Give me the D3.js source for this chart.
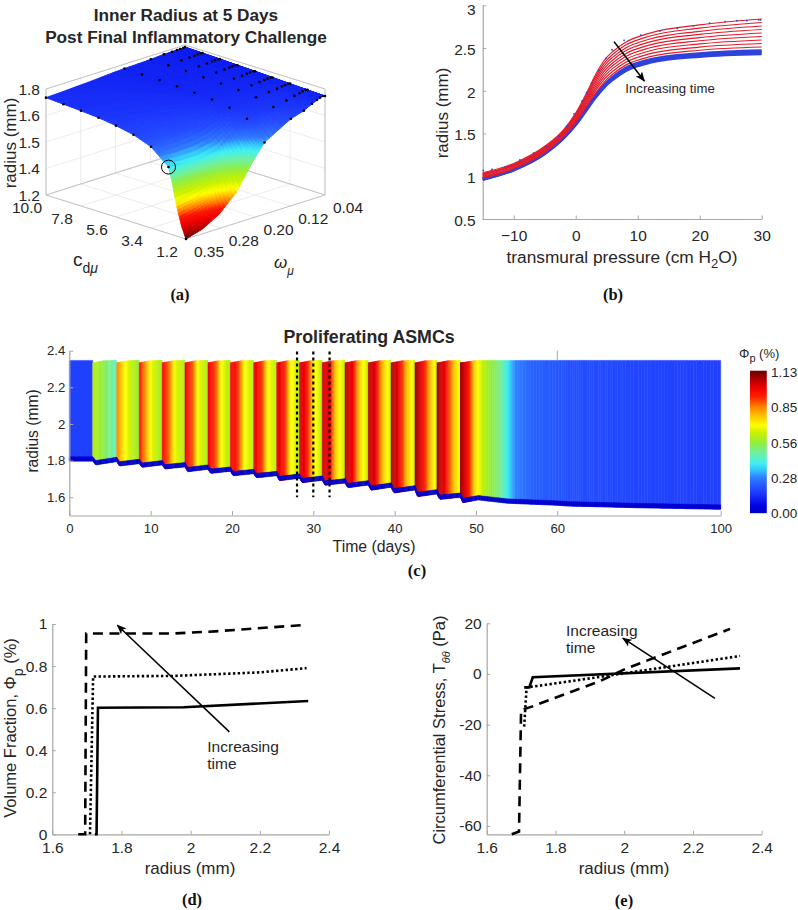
<!DOCTYPE html>
<html><head><meta charset="utf-8">
<script src="https://cdn.jsdelivr.net/npm/d3@7"></script>
<style>html,body{margin:0;padding:0;background:#fff}svg{display:block}text{font-family:"Liberation Sans",Helvetica,Arial,sans-serif;fill:#262626}.pl{font-family:"Liberation Serif",serif;font-weight:bold;fill:#111}</style>
</head><body><svg id="c" width="798" height="910"></svg>
<script>
// ---------- shared colour map ----------
const cmapValues=[0,0.05,0.17,0.28,0.33,0.395,0.48,0.556,0.64,0.70,0.78,0.85,0.93,1.0,1.07,1.13];
const cmapColors=["#0000c0","#0000e6","#2040ff","#2f7dff","#30b8ff","#40f0f0","#70f0a0","#90ee40","#c8f000","#ffff00","#ffc000","#ff8000","#ff2000","#f00000","#b00000","#700000"];
// ---------- panel a ----------
const surfCd=[1.2,1.47,1.78,2.10,2.3,3.4,4.5,5.6,6.7,7.8,8.9,10];
const surfOmega=[0.35,0.313,0.276,0.238,0.201,0.175,0.116,0.087,0.069,0.058,0.051,0.044,0.04];
const surfRadius=[
[1.200,1.227,1.281,1.373,1.518,1.606,1.693,1.715,1.740,1.752,1.760,1.764,1.760],
[1.262,1.290,1.335,1.420,1.550,1.630,1.702,1.722,1.744,1.754,1.761,1.765,1.761],
[1.366,1.380,1.410,1.480,1.585,1.655,1.712,1.730,1.748,1.756,1.762,1.766,1.762],
[1.508,1.500,1.505,1.545,1.625,1.685,1.722,1.738,1.751,1.758,1.763,1.767,1.763],
[1.576,1.560,1.560,1.585,1.655,1.709,1.728,1.742,1.753,1.759,1.764,1.767,1.764],
[1.660,1.665,1.672,1.685,1.715,1.740,1.752,1.758,1.762,1.766,1.769,1.771,1.768],
[1.697,1.700,1.710,1.720,1.740,1.756,1.762,1.766,1.769,1.772,1.774,1.775,1.772],
[1.717,1.720,1.730,1.740,1.752,1.763,1.768,1.771,1.774,1.776,1.778,1.779,1.776],
[1.731,1.735,1.742,1.750,1.760,1.768,1.772,1.775,1.778,1.780,1.781,1.782,1.779],
[1.739,1.745,1.750,1.757,1.766,1.772,1.776,1.779,1.781,1.783,1.784,1.785,1.783],
[1.745,1.750,1.755,1.762,1.769,1.773,1.778,1.782,1.784,1.785,1.786,1.787,1.786],
[1.751,1.755,1.760,1.765,1.772,1.775,1.780,1.785,1.785,1.786,1.786,1.786,1.789]];
const dotRows=[0,4,5,6,7,8,9,10,11];
const dotCols=[0,5,6,7,8,9,10,11,12];
const radiusToPhiR=[1.2,1.25,1.30,1.35,1.39,1.47,1.55,1.59,1.63,1.68,1.79];
const radiusToPhiV=[1.13,1.03,0.96,0.82,0.70,0.58,0.43,0.35,0.26,0.19,0.10];
const cdTicks=[10,7.8,5.6,3.4,1.2], cdLabels=["10.0","7.8","5.6","3.4","1.2"];
const omegaTicks=[0.35,0.2725,0.195,0.1175,0.04], omegaLabels=["0.35","0.28","0.20","0.12","0.04"];
const zTicks=[1.8,1.65,1.5,1.35,1.2], zLabels=["1.8","1.6","1.5","1.4","1.2"];
// ---------- panel b ----------
const pGrid=[-15,-10,-5,-2,0,2,3,4,5,6,8,12,20,30];
const redCurves=[
[1.04,1.15,1.35,1.54,1.74,2.01,2.16,2.29,2.39,2.46,2.565,2.675,2.77,2.84],
[1.03,1.14,1.34,1.53,1.726,1.989,2.134,2.26,2.358,2.427,2.532,2.641,2.733,2.799],
[1.02,1.13,1.33,1.52,1.712,1.968,2.108,2.23,2.326,2.394,2.498,2.606,2.696,2.758],
[1.02,1.13,1.32,1.51,1.70,1.947,2.082,2.20,2.294,2.361,2.465,2.572,2.659,2.717],
[1.01,1.12,1.31,1.50,1.684,1.926,2.056,2.17,2.262,2.328,2.431,2.537,2.622,2.676],
[1.00,1.11,1.305,1.49,1.67,1.905,2.03,2.14,2.23,2.295,2.398,2.503,2.585,2.635],
[0.99,1.10,1.296,1.48,1.656,1.884,2.004,2.11,2.198,2.262,2.364,2.468,2.548,2.594],
[0.98,1.09,1.287,1.47,1.642,1.863,1.978,2.08,2.166,2.229,2.33,2.434,2.511,2.553],
[0.98,1.09,1.278,1.46,1.628,1.842,1.952,2.05,2.134,2.196,2.297,2.399,2.474,2.512]];
const blueCurves=[
[0.97,1.08,1.27,1.45,1.614,1.821,1.926,2.02,2.102,2.163,2.264,2.365,2.437,2.471],
[0.965,1.075,1.265,1.445,1.607,1.81,1.913,2.005,2.086,2.147,2.247,2.348,2.419,2.45],
[0.96,1.07,1.26,1.44,1.60,1.80,1.90,1.99,2.07,2.13,2.23,2.33,2.40,2.43]];
const expP=[-14.9,-13.5,-11.4,-9.0,-6.8,-4.8,-2.7,-1.45,-0.27,1.02,1.77,2.58,3.76,4.84,5.86,7.8,10.5,13.6,16.4,19,21.6,24.1,26,27.6,29.5,29.8];
const expR=[1.07,1.08,1.11,1.19,1.27,1.35,1.47,1.58,1.73,1.88,1.98,2.09,2.24,2.38,2.48,2.59,2.65,2.70,2.73,2.76,2.79,2.81,2.82,2.82,2.83,2.83];
// ---------- panel c ----------
const cycleStart=[2.88,5.83,8.6,11.43,14.22,17.05,19.8,22.67,25.5,28.3,31.1,33.9,36.76,39.56,42.5,45.2];
const cycleDip=[1.776,1.770,1.763,1.754,1.739,1.730,1.717,1.706,1.690,1.679,1.665,1.652,1.638,1.623,1.603,1.588];
const cycleEnd=[1.794,1.783,1.776,1.765,1.752,1.741,1.728,1.717,1.703,1.692,1.677,1.666,1.654,1.639,1.617,1.599];
const phiStart=[0.62,0.85,0.97,1.0,1.0,1.0,1.0,1.0,1.02,1.04,1.05,1.06,1.07,1.08,1.09,1.09];
const phiMid=[0.57,0.72,0.78,0.84,0.88,0.90,0.92,0.93,0.95,0.97,0.98,0.99,1.0,1.0,1.0,1.0];
const phiLate=[0.52,0.64,0.66,0.67,0.68,0.70,0.71,0.72,0.72,0.74,0.76,0.78,0.80,0.82,0.84,0.85];
const phiEnd=[0.44,0.56,0.58,0.60,0.60,0.60,0.61,0.61,0.62,0.62,0.63,0.63,0.64,0.64,0.65,0.65];
const decayT=[48.1,48.9,49.9,50.9,52.96,54,54.8,57,62.3,78.6,100];
const decayPhi=[1.09,1.0,0.75,0.62,0.50,0.38,0.29,0.23,0.20,0.18,0.17];
const decayLowT=[48.1,48.4,50.3,53.8,62.3,78.6,100];
const decayLowR=[1.599,1.570,1.585,1.567,1.552,1.543,1.534];
const cTicks=[0,10,20,30,40,50,60,100];
const cYTicks=[1.6,1.8,2,2.2,2.4];
const dottedDays=[28,30,32];
const cbarTicks=[0,0.28,0.56,0.85,1.13];
// ---------- panels d, e ----------
const dSolidX=[1.723,1.728,1.732,1.98,2.34], dSolidY=[0,0,0.602,0.604,0.634];
const dDotX=[1.709,1.718,1.85,1.95,2.2,2.335], dDotY=[0,0.75,0.752,0.753,0.77,0.79];
const dDashX=[1.675,1.695,1.698,1.95,2.07,2.325], dDashY=[0,0,0.955,0.955,0.965,0.995];
const eSolidX=[1.709,1.724,1.734,2.337], eSolidY=[-5.3,-5.3,-1.3,2.2];
const eDotX=[1.709,1.716,1.755,1.968,2.337], eDotY=[-20.8,-5.3,-4.6,-0.4,7.1];
const eDashX=[1.673,1.694,1.70,1.731,1.93,2.007,2.308], eDashY=[-63.3,-62.2,-14.2,-12.9,-2.8,2.2,17.8];
const radTicks=[1.6,1.8,2,2.2,2.4];

const svg=d3.select("#c");
const GR="#a6a6a6";
const defs=svg.append("defs");
defs.append("marker").attr("id","ah").attr("markerUnits","userSpaceOnUse").attr("viewBox","0 0 10 8").attr("refX",9).attr("refY",4)
 .attr("markerWidth",10).attr("markerHeight",8).attr("orient","auto").append("path").attr("d","M0,0L10,4L0,8L2.5,4Z").attr("fill","#000");
const cmap=d3.scaleLinear().domain(cmapValues).range(cmapColors).clamp(true);
function txt(x,y,s,size,anchor,g){return (g||svg).append("text").attr("x",x).attr("y",y).attr("font-size",size).attr("text-anchor",anchor||"middle").text(s);}
function vtxt(x,y,size,parts,anchor){
 const t=svg.append("text").attr("transform",`translate(${x},${y}) rotate(-90)`).attr("font-size",size).attr("text-anchor",anchor||"middle");
 parts.forEach(p=>{const s=t.append("tspan").text(p[0]);
  if(p[1]){s.attr("dy",p[1]).attr("font-size",p[2]||size)}});
 return t;}
function styleAxis(g,size){g.selectAll("path").attr("stroke",GR).attr("stroke-width",1.2);g.selectAll("line").attr("stroke",GR).attr("stroke-width",1);
 g.selectAll("text").attr("font-size",size).attr("font-family",'"Liberation Sans",sans-serif').attr("fill","#262626");}
function fmtR(v){return String(+v.toFixed(1));}

// ===== panel a =====
(function(){
 const uS=d3.scaleLinear().domain([1.2,10]).range([0,1]);
 const vS=d3.scaleLinear().domain([0.35,0.04]).range([0,1]);
 const zS=d3.scaleLinear().domain([1.2,1.8]).range([0,106]);
 const px=(c,o)=>186-140*uS(c)+139*vS(o);
 const py=(c,o,r)=>239-44*uS(c)-44*vS(o)-zS(r);
 const g=svg.append("g");
 const rColor=d3.scaleLinear().domain(radiusToPhiR).range(radiusToPhiV).clamp(true);
 const lite="#ececec";
 const seg=(a,b,c)=>g.append("line").attr("x1",a[0]).attr("y1",a[1]).attr("x2",b[0]).attr("y2",b[1]).attr("stroke",c||"#c4c4c4").attr("stroke-width",1);
 const P=(c,o,r)=>[px(c,o),py(c,o,r)];
 cdTicks.forEach(c=>{seg(P(c,0.35,1.2),P(c,0.04,1.2),lite);seg(P(c,0.04,1.2),P(c,0.04,1.8),lite);});
 omegaTicks.forEach(o=>{seg(P(1.2,o,1.2),P(10,o,1.2),lite);seg(P(10,o,1.2),P(10,o,1.8),lite);});
 zTicks.forEach(z=>{seg(P(10,0.35,z),P(10,0.04,z),lite);seg(P(10,0.04,z),P(1.2,0.04,z),lite);});
 seg(P(10,0.35,1.2),P(10,0.04,1.2));seg(P(10,0.04,1.2),P(1.2,0.04,1.2));
 seg(P(10,0.35,1.8),P(10,0.04,1.8));seg(P(10,0.04,1.8),P(1.2,0.04,1.8));
 seg(P(10,0.35,1.2),P(1.2,0.35,1.2));seg(P(1.2,0.35,1.2),P(1.2,0.04,1.2));
 seg(P(10,0.35,1.2),P(10,0.35,1.8));seg(P(1.2,0.04,1.2),P(1.2,0.04,1.8));
 const n=6;
 for(let i=surfCd.length-2;i>=0;i--)for(let j=surfOmega.length-2;j>=0;j--){
  const c0=surfCd[i],c1=surfCd[i+1],o0=surfOmega[j],o1=surfOmega[j+1];
  const r=surfRadius;
  const val=(a,b)=>r[i][j]*(1-a)*(1-b)+r[i+1][j]*a*(1-b)+r[i][j+1]*(1-a)*b+r[i+1][j+1]*a*b;
  const pt=(a,b)=>{const c=c0+(c1-c0)*a,o=o0+(o1-o0)*b;return [px(c,o),py(c,o,val(a,b))];};
  for(let a=n-1;a>=0;a--)for(let b=n-1;b>=0;b--){
   const col=cmap(rColor(val((a+.5)/n,(b+.5)/n)));
   g.append("polygon").attr("points",[pt(a/n,b/n),pt((a+1)/n,b/n),pt((a+1)/n,(b+1)/n),pt(a/n,(b+1)/n)].map(p=>p.join(",")).join(" "))
    .attr("fill",col).attr("stroke",col).attr("stroke-width",0.9);
  }
 }
 dotRows.forEach(i=>dotCols.forEach(j=>{
  g.append("circle").attr("cx",px(surfCd[i],surfOmega[j])).attr("cy",py(surfCd[i],surfOmega[j],surfRadius[i][j])).attr("r",1.3).attr("fill","#000");
 }));
 g.append("circle").attr("cx",px(surfCd[4],surfOmega[0])).attr("cy",py(surfCd[4],surfOmega[0],surfRadius[4][0])).attr("r",7).attr("fill","none").attr("stroke","#000").attr("stroke-width",1);
 const F=15.5;
 zTicks.forEach((z,k)=>txt(40,py(10,0.35,z)+5.5,zLabels[k],F,"end"));
 cdTicks.forEach((c,k)=>txt(px(c,0.35)-19,py(c,0.35,1.2)+18,cdLabels[k],F));
 omegaTicks.forEach((o,k)=>txt(px(1.2,o)+23,py(1.2,o,1.2)+18,omegaLabels[k],F));
 vtxt(16,143,17,[["radius (mm)"]]);
 const t=txt(73,266,"c",19,"start");t.append("tspan").attr("dy",7).attr("font-size",14).text("d");t.append("tspan").attr("font-size",14).attr("font-style","italic").text("μ");
 const t2=txt(274,268,"ω",17,"start").attr("font-style","italic");t2.append("tspan").attr("dy",7).attr("font-size",12).text("μ");
 txt(186,21,"Inner Radius at 5 Days",17.2).attr("font-weight","bold").attr("fill","#111");
 txt(186,43,"Post Final Inflammatory Challenge",17.2).attr("font-weight","bold").attr("fill","#111");
 txt(180,300,"(a)",16.5).attr("class","pl");
})();

// ===== panel b =====
(function(){
 const x=d3.scaleLinear().domain([-15,30]).range([482.7,761.7]);
 const y=d3.scaleLinear().domain([0.5,3]).range([219,5.3]);
 const line=d3.line().x((d,i)=>x(pGrid[i])).y(d=>y(d)).curve(d3.curveMonotoneX);
 const ax=svg.append("g").attr("transform","translate(0,219)").call(d3.axisBottom(x).tickValues([-10,0,10,20,30]).tickSize(-3.5).tickSizeOuter(0).tickPadding(11));
 styleAxis(ax,15.5);
 const ay=svg.append("g").attr("transform","translate(482.7,0)").call(d3.axisLeft(y).tickValues([0.5,1,1.5,2,2.5,3]).tickFormat(d=>String(d)).tickSize(-3.5).tickSizeOuter(0).tickPadding(7));
 styleAxis(ay,15.5);
 ay.selectAll("text").attr("transform",d=>d===3?"translate(0,3.9)":"translate(0,1.4)");
 blueCurves.forEach(c=>svg.append("path").attr("d",line(c)).attr("fill","none").attr("stroke","#2e42dc").attr("stroke-width",2.6));
 redCurves.forEach(c=>svg.append("path").attr("d",line(c)).attr("fill","none").attr("stroke","#e01c2c").attr("stroke-width",1.2));
 expP.forEach((p,i)=>svg.append("circle").attr("cx",x(p)).attr("cy",y(expR[i])).attr("r",0.9).attr("fill","#2e42dc"));
 svg.append("line").attr("x1",x(6.18)).attr("y1",y(2.575)).attr("x2",x(11.07)).attr("y2",y(2.115)).attr("stroke","#000").attr("stroke-width",1.6).attr("marker-end","url(#ah)");
 txt(625.3,93,"Increasing time",13.2,"start");
 vtxt(448,113,17,[["radius (mm)"]]);
 const t=txt(622,263,"transmural pressure (cm H",17.3);t.append("tspan").attr("dy",5).attr("font-size",13).text("2");t.append("tspan").attr("dy",-5).text("O)");
 txt(613,300,"(b)",16.5).attr("class","pl");
})();

// ===== panel c =====
(function(){
 const x=d3.scaleLinear().domain([0,60,100]).range([69.3,557.3,720.7]);
 const y=d3.scaleLinear().domain([1.5,2.4]).range([515.5,350.7]);
 const g=svg.append("g"), g2=svg.append("g");
 const TOP=2.347,TOPLOW=2.334,BAND=0.024,STRIPE="#0000d0";
 const quad=(t0,t1,a0,a1,b0,b1,col,gg)=>(gg||g).append("polygon").attr("points",[[x(t0),y(a0)],[x(t1),y(a1)],[x(t1),y(b1)],[x(t0),y(b0)]].map(p=>p.join(",")).join(" ")).attr("fill",col).attr("stroke",col).attr("stroke-width",0.5);
 quad(0,cycleStart[0],TOP,TOP,1.797,1.797,cmap(0.17));
 quad(0,cycleStart[0],1.797+BAND,1.797+BAND,1.797,1.797,STRIPE,g2);
 const S=20;
 cycleStart.forEach((t0,i)=>{
  const t1=i<cycleStart.length-1?cycleStart[i+1]:decayT[0];
  const prev=i?cycleEnd[i-1]:1.797;
  const low=d3.scaleLinear().domain([0,0.12,1]).range([prev,cycleDip[i],cycleEnd[i]]);
  const top=d3.scaleLinear().domain([0,0.45,1]).range([TOPLOW,TOP-0.002,TOP]);
  const ph=d3.scaleLinear().domain([0,0.35,0.6,1]).range([phiStart[i],phiMid[i],phiLate[i],phiEnd[i]]);
  for(let k=0;k<S;k++){const a=k/S,b=(k+1)/S,ta=t0+(t1-t0)*a,tb=t0+(t1-t0)*b;
   quad(ta,tb,top(a),top(b),low(a),low(b),cmap(ph((a+b)/2)));
   quad(ta,tb,low(a)+BAND,low(b)+BAND,low(a),low(b),STRIPE,g2);}
 });
 const dPh=d3.scaleLinear().domain(decayT).range(decayPhi);
 const dLow=d3.scaleLinear().domain(decayLowT).range(decayLowR);
 const dTop=d3.scaleLinear().domain([48.1,50,100]).range([TOPLOW,TOP,TOP]);
 const D=120;
 for(let k=0;k<D;k++){
  const ta=48.1+51.9*Math.pow(k/D,2),tb=48.1+51.9*Math.pow((k+1)/D,2);
  quad(ta,tb,dTop(ta),dTop(tb),dLow(ta),dLow(tb),cmap(dPh((ta+tb)/2)));
  quad(ta,tb,dLow(ta)+BAND,dLow(tb)+BAND,dLow(ta),dLow(tb),STRIPE,g2);
 }
 const ax=svg.append("g").attr("transform","translate(0,515.5)").call(d3.axisBottom(x).tickValues(cTicks).tickFormat(d=>String(d)).tickSize(-4.5).tickSizeOuter(0).tickPadding(8));
 styleAxis(ax,13.2);
 const ay=svg.append("g").attr("transform","translate(69.3,0)").call(d3.axisLeft(y).tickValues(cYTicks).tickFormat(d=>String(d)).tickSize(-4).tickSizeOuter(0).tickPadding(4));
 styleAxis(ay,13.2);
 svg.append("line").attr("x1",x(60)).attr("x2",x(60)).attr("y1",y(2.4)).attr("y2",y(2.35)).attr("stroke",GR);
 dottedDays.forEach(d=>svg.append("line").attr("x1",x(d)).attr("x2",x(d)).attr("y1",y(2.395)).attr("y2",y(1.6)).attr("stroke","#000").attr("stroke-width",2.2).attr("stroke-dasharray","2.8 3.2"));
 txt(369,343,"Proliferating ASMCs",17.8).attr("font-weight","bold").attr("fill","#111");
 txt(374,552,"Time (days)",15.8);
 vtxt(38,431,15.6,[["radius (mm)"]]);
 txt(417,576,"(c)",16.5).attr("class","pl");
 const cb=d3.scaleLinear().domain([0,1.13]).range([512.7,371.7]);
 const vals=d3.range(0,142).map(k=>k/141*1.13);
 svg.append("g").selectAll("rect").data(vals).join("rect").attr("x",750).attr("width",16.7).attr("y",d=>cb(d)-1).attr("height",1.5).attr("fill",d=>cmap(d));
 cbarTicks.forEach(v=>txt(771,cb(v)+5,v.toFixed(2),13.5,"start"));
 const t=txt(739,358,"Φ",13,"start");t.append("tspan").attr("dy",4).attr("font-size",11).text("p");t.append("tspan").attr("dy",-4).text(" (%)");
})();

// ===== panels d, e =====
function lineChart(o){
 const x=d3.scaleLinear().domain([1.6,2.4]).range(o.xr);
 const y=d3.scaleLinear().domain(o.yd).range(o.yr);
 const line=(xs,ys)=>d3.line().x((d,i)=>x(xs[i])).y(d=>y(d))(ys);
 const ax=svg.append("g").attr("transform",`translate(0,${o.yr[0]})`).call(d3.axisBottom(x).tickValues(radTicks).tickFormat(fmtR).tickSize(-3.5).tickSizeOuter(0).tickPadding(8));
 styleAxis(ax,15.5);
 const ay=svg.append("g").attr("transform",`translate(${o.xr[0]},0)`).call(d3.axisLeft(y).tickValues(o.yt).tickFormat(d=>String(d)).tickSize(-3.5).tickSizeOuter(0).tickPadding(5));
 styleAxis(ay,15.5);
 const s=(xs,ys,da)=>{const p=svg.append("path").attr("d",line(xs,ys)).attr("fill","none").attr("stroke","#000").attr("stroke-width",2.6).attr("stroke-linejoin","miter");if(da)p.attr("stroke-dasharray",da);};
 s(o.solid[0],o.solid[1]);s(o.dot[0],o.dot[1],"2.4 2.4");s(o.dash[0],o.dash[1],"10 6.5");
 svg.append("line").attr("x1",x(o.arrow[0])).attr("y1",y(o.arrow[1])).attr("x2",x(o.arrow[2])).attr("y2",y(o.arrow[3])).attr("stroke","#000").attr("stroke-width",1.5).attr("marker-end","url(#ah)");
 txt(o.tx,o.ty,"Increasing",15.5,"start");txt(o.tx,o.ty+17,"time",15.5,"start");
 txt(o.xl,874,"radius (mm)",17);
}
lineChart({xr:[52.3,329],yd:[0,1],yr:[834.3,624],yt:[0,0.2,0.4,0.6,0.8,1],solid:[dSolidX,dSolidY],dot:[dDotX,dDotY],dash:[dDashX,dDashY],arrow:[2.112,0.487,1.788,0.994],tx:207.3,ty:751.5,xl:190});
lineChart({xr:[486.7,761.7],yd:[-63.3,20],yr:[834.3,623.3],yt:[-60,-40,-20,0,20],solid:[eSolidX,eSolidY],dot:[eDotX,eDotY],dash:[eDashX,eDashY],arrow:[2.264,-9.6,1.996,14.1],tx:566,ty:636,xl:624});
(function(){
 const a=svg.append("text").attr("transform","translate(15.5,728) rotate(-90)").attr("font-size",16.5).attr("text-anchor","middle");
 a.append("tspan").text("Volume Fraction, Φ");a.append("tspan").attr("dy",7).attr("font-size",14).text("p");a.append("tspan").attr("dy",-7).text(" (%)");
 const b=svg.append("text").attr("transform","translate(445,730) rotate(-90)").attr("font-size",16.5).attr("text-anchor","middle");
 b.append("tspan").text("Circumferential Stress, T");b.append("tspan").attr("dy",5).attr("font-size",11).attr("font-style","italic").text("θθ");b.append("tspan").attr("dy",-5).text(" (Pa)");
 txt(192,905,"(d)",16.5).attr("class","pl");
 txt(624,906,"(e)",16.5).attr("class","pl");
})();
</script></body></html>
